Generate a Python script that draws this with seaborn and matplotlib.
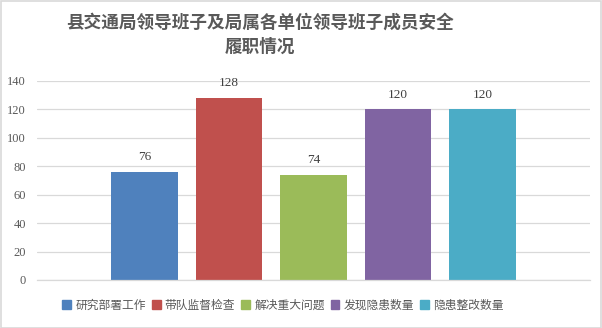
import matplotlib
matplotlib.use("Agg")
import matplotlib.pyplot as plt
import seaborn as sns
import pandas as pd
from matplotlib.patches import Rectangle

# Data
series = ["研究部署工作", "带队监督检查", "解决重大问题", "发现隐患数量", "隐患整改数量"]
values = [76, 128, 74, 120, 120]
colors = ["#4F81BD", "#C0504D", "#9BBB59", "#8064A2", "#4BACC6"]
yticks = [0, 20, 40, 60, 80, 100, 120, 140]
title = "县交通局领导班子及局属各单位领导班子成员安全\n履职情况"

sns.set_theme(style="white")
plt.rcParams["font.family"] = ["Noto Sans CJK SC", "DejaVu Sans"]

df = pd.DataFrame({"group": [""] * len(series), "series": series, "value": values})

fig = plt.figure(figsize=(6.02, 3.28), dpi=100)
ax = fig.add_axes([37 / 602, 48 / 328, 553 / 602, 199.3 / 328])

sns.barplot(data=df, x="group", y="value", hue="series", hue_order=series,
            palette=colors, width=0.764, gap=0.21, saturation=1,
            linewidth=0, legend=False, ax=ax)

ax.set_xlim(-0.5, 0.5)
ax.set_ylim(0, 140)
ax.set_yticks(yticks)
ax.set_yticklabels([str(t) for t in yticks], family="Liberation Serif",
                   fontsize=9, color="#595959")
ax.tick_params(axis="y", length=0, pad=8)
ax.tick_params(axis="x", length=0)
ax.set_xticks([])
ax.set_xlabel("")
ax.set_ylabel("")
ax.grid(axis="y", color="#D9D9D9", linewidth=0.9)
ax.set_axisbelow(True)
for s in ["top", "right", "left"]:
    ax.spines[s].set_visible(False)
ax.spines["bottom"].set_color("#D9D9D9")
ax.spines["bottom"].set_linewidth(0.9)

# value labels above bars
for container in ax.containers:
    ax.bar_label(container, padding=6, family="Liberation Serif",
                 fontsize=9.5, color="#404040")

# title
fig.text(260 / 602, 1 - 35 / 328, title, ha="center", va="center",
         fontsize=12.7, fontweight="bold", color="#595959",
         linespacing=1.45)

# legend
handles = [Rectangle((0, 0), 1, 1, color=c) for c in colors]
leg = fig.legend(handles, series, loc="center", bbox_to_anchor=(283 / 602, 1 - 305 / 328),
                 ncol=5, frameon=False, fontsize=8.5, handlelength=0.75,
                 handleheight=0.75, handletextpad=0.35, columnspacing=0.5)
for t in leg.get_texts():
    t.set_color("#595959")

# outer border
fig.patches.append(Rectangle((0.5 / 602, 0.5 / 328), 1 - 1.5 / 602, 1 - 1.5 / 328,
                             transform=fig.transFigure, fill=False,
                             edgecolor="#D9D9D9", linewidth=1.2))

fig.savefig("out.png", dpi=100, facecolor="white")
